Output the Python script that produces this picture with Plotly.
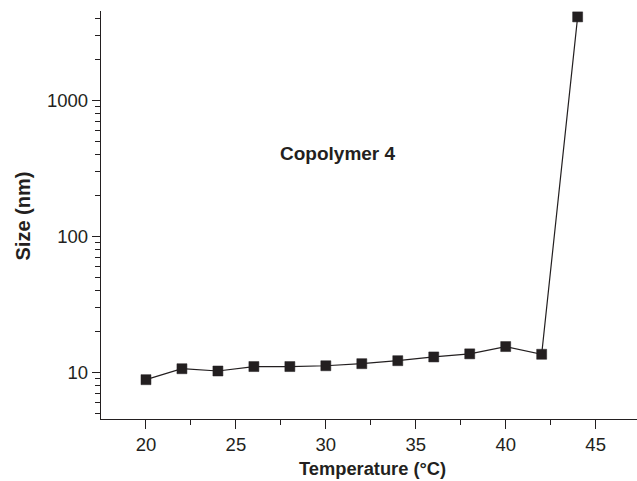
import plotly.graph_objects as go

temperature = [20, 22, 24, 26, 28, 30, 32, 34, 36, 38, 40, 42, 44]
size_nm = [8.85, 10.65, 10.25, 11.05, 11.05, 11.2, 11.6, 12.2, 13.0, 13.7, 15.5, 13.6, 4100]

x_ticks = [20, 25, 30, 35, 40, 45]
y_ticks = [10, 100, 1000]
y_minor = [5, 6, 7, 8, 9, 20, 30, 40, 50, 60, 70, 80, 90,
           200, 300, 400, 500, 600, 700, 800, 900, 2000, 3000, 4000]

W, H = 637, 481
L, R, T, B = 101, 0, 11, 62

fig = go.Figure()
fig.add_trace(go.Scatter(
    x=temperature, y=size_nm, mode="lines+markers",
    line=dict(color="#231f20", width=1.2),
    marker=dict(symbol="square", size=10, color="#231f20",
                line=dict(color="#231f20", width=0.5)),
    showlegend=False,
))

font = "Liberation Sans, Arial, sans-serif"
fig.update_layout(
    width=W, height=H,
    margin=dict(l=L, r=R, t=T, b=B, pad=0),
    paper_bgcolor="white", plot_bgcolor="white",
    font=dict(family=font, color="#231f20"),
    xaxis=dict(
        range=[17.5, 47.3], tickvals=x_ticks, ticktext=[str(v) for v in x_ticks],
        showgrid=False, zeroline=False, showline=True, linecolor="#231f20", linewidth=1.3,
        ticks="outside", ticklen=9, tickwidth=1.3, tickcolor="#231f20",
        tickfont=dict(size=18.5, family=font, color="#231f20"),
        minor=dict(tickvals=[22.5, 27.5, 32.5, 37.5, 42.5, 47.5], ticks="outside",
                   ticklen=5, tickwidth=1.3, tickcolor="#231f20", showgrid=False),
    ),
    yaxis=dict(
        type="log", range=[0.658, 3.656], tickvals=y_ticks,
        ticktext=[str(v) for v in y_ticks],
        showgrid=False, zeroline=False, showline=True, linecolor="#231f20", linewidth=1.3,
        ticks="outside", ticklen=8, tickwidth=1.3, tickcolor="#231f20",
        tickfont=dict(size=18.5, family=font, color="#231f20"),
        minor=dict(tickvals=y_minor, ticks="outside",
                   ticklen=5, tickwidth=1.3, tickcolor="#231f20", showgrid=False),
    ),
    annotations=[
        dict(text="<b>Copolymer 4</b>", x=(338 - L) / (W - L - R), y=1 - (153 - T) / (H - T - B),
             xref="paper", yref="paper", showarrow=False,
             font=dict(size=19, family=font, color="#231f20"), xanchor="center", yanchor="middle"),
        dict(text="<b>Temperature (°C)</b>", x=(372 - L) / (W - L - R), y=1 - (468 - T) / (H - T - B),
             xref="paper", yref="paper", showarrow=False,
             font=dict(size=18.3, family=font, color="#231f20"), xanchor="center", yanchor="middle"),
        dict(text="<b>Size (nm)</b>", x=(22.5 - L) / (W - L - R), y=1 - (216 - T) / (H - T - B),
             xref="paper", yref="paper", showarrow=False, textangle=-90,
             font=dict(size=20, family=font, color="#231f20"), xanchor="center", yanchor="middle"),
    ],
)

fig.write_html("out.html")
